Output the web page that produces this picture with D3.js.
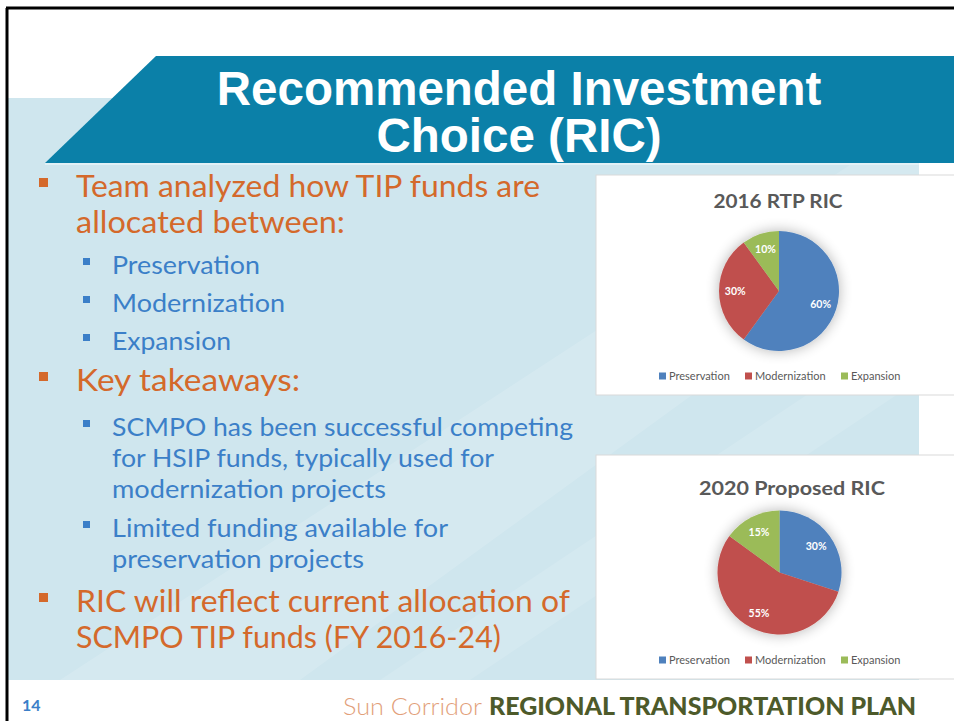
<!DOCTYPE html>
<html>
<head>
<meta charset="utf-8">
<script src="https://cdn.jsdelivr.net/npm/d3@7"></script>
<style>
  html, body { margin: 0; padding: 0; background: #fff; }
  svg { display: block; }
</style>
</head>
<body>
<div id="slide"></div>
<script>
// ---- data ----
var categories = ["Preservation", "Modernization", "Expansion"];
var ric2016 = [60, 30, 10];
var ric2020 = [30, 55, 15];
var chartTitles = ["2016 RTP RIC", "2020 Proposed RIC"];
var titleLines = ["Recommended Investment", "Choice (RIC)"];
var bulletText = [
  "Team analyzed how TIP funds are", "allocated between:",
  "Preservation", "Modernization", "Expansion",
  "Key takeaways:",
  "SCMPO has been successful competing", "for HSIP funds, typically used for", "modernization projects",
  "Limited funding available for", "preservation projects",
  "RIC will reflect current allocation of", "SCMPO TIP funds (FY 2016-24)"
];
var bulletLevel = [1, 1, 2, 2, 2, 1, 2, 2, 2, 2, 2, 1, 1];
var bulletStart = [true, false, true, true, true, true, true, false, false, true, false, true, false];

// ---- layout ----
var W = 954, H = 721;
var lineY = [197, 233, 274, 312, 350, 391, 436, 467, 498, 537, 568, 612, 648];
var lineW = [464, 269, 148, 173, 119, 224, 461, 382, 274, 336, 252, 494, 425];
var sliceColor = ["#4f81bd", "#c0504d", "#9bbb59"];

var svg = d3.select("#slide").append("svg")
    .attr("width", W).attr("height", H);

var defs = svg.append("defs");
var sh = defs.append("filter").attr("id", "pieShadow")
    .attr("x", "-40%").attr("y", "-40%").attr("width", "180%").attr("height", "180%");
sh.append("feGaussianBlur").attr("in", "SourceAlpha").attr("stdDeviation", 7).attr("result", "b");
sh.append("feComponentTransfer").append("feFuncA").attr("type", "linear").attr("slope", 0.3);
var mg = sh.append("feMerge");
mg.append("feMergeNode");
mg.append("feMergeNode").attr("in", "SourceGraphic");

// light blue body of slide
svg.append("rect").attr("x", 8).attr("y", 98).attr("width", 911).attr("height", 582)
    .attr("fill", "#cfe6ee");
// lighter diagonal streaks
svg.append("path").attr("d", "M 60 680 L 300 680 L 919 230 L 919 120 Z")
    .attr("fill", "#ffffff").attr("opacity", 0.14);
svg.append("path").attr("d", "M 380 680 L 470 680 L 919 380 L 919 320 Z")
    .attr("fill", "#ffffff").attr("opacity", 0.12);

// slide frame
svg.append("line").attr("x1", 7).attr("x2", 7).attr("y1", 8).attr("y2", H)
    .attr("stroke", "#000").attr("stroke-width", 3);
svg.append("line").attr("x1", 6).attr("x2", W).attr("y1", 8).attr("y2", 8)
    .attr("stroke", "#000").attr("stroke-width", 3);

// title banner
svg.append("path").attr("d", "M 156 56 L " + W + " 56 L " + W + " 163 L 45 163 Z")
    .attr("fill", "#0b80a8");
svg.append("rect").attr("x", 45).attr("y", 163).attr("width", 874).attr("height", 2)
    .attr("fill", "#e2f1f6");

svg.selectAll("text.title").data(titleLines).enter().append("text")
    .attr("class", "title")
    .attr("x", 519).attr("y", function(d, i) { return 105 + i * 47; })
    .attr("text-anchor", "middle")
    .attr("font-family", "Liberation Sans, Arial, sans-serif")
    .attr("font-weight", "bold").attr("font-size", 47.5)
    .attr("fill", "#fff")
    .text(function(d) { return d; });

// bullets
var bullets = svg.append("g");
bulletText.forEach(function(t, i) {
  var lvl = bulletLevel[i];
  var tx = lvl === 1 ? 76 : 112;
  var col = lvl === 1 ? "#d4692b" : "#3b7fc8";
  var fs = lvl === 1 ? 30.5 : 25.5;
  if (bulletStart[i]) {
    var s = lvl === 1 ? 9 : 7;
    bullets.append("rect")
        .attr("x", lvl === 1 ? 39 : 83)
        .attr("y", lineY[i] - (lvl === 1 ? 19 : 16))
        .attr("width", s).attr("height", s)
        .attr("fill", col);
  }
  bullets.append("text")
      .attr("x", tx).attr("y", lineY[i])
      .attr("font-family", "Lato, 'Open Sans', sans-serif")
      .attr("font-size", fs).attr("fill", col)
      .attr("textLength", lineW[i]).attr("lengthAdjust", "spacingAndGlyphs")
      .text(t);
});

// ---- pie charts ----
var pie = d3.pie().sort(null).value(function(d) { return d; });

function drawChart(values, opts) {
  var g = svg.append("g");
  g.append("rect")
      .attr("x", opts.box[0]).attr("y", opts.box[1])
      .attr("width", W - opts.box[0] + 2).attr("height", opts.box[2] - opts.box[1])
      .attr("fill", "#fff").attr("stroke", "#d9d9d9");

  g.append("text")
      .attr("x", opts.titleX).attr("y", opts.titleY)
      .attr("text-anchor", "middle")
      .attr("font-family", "Lato, 'Open Sans', sans-serif")
      .attr("font-weight", "bold").attr("font-size", 19.5)
      .attr("fill", "#595959")
      .attr("textLength", opts.titleW).attr("lengthAdjust", "spacingAndGlyphs")
      .text(opts.title);

  var arc = d3.arc().innerRadius(0).outerRadius(opts.r);
  var lab = d3.arc().innerRadius(opts.r * 0.73).outerRadius(opts.r * 0.73);
  var pg = g.append("g").attr("transform", "translate(" + opts.cx + "," + opts.cy + ")");
  var arcs = pie(values);
  pg.append("g").attr("filter", "url(#pieShadow)")
    .selectAll("path").data(arcs).enter().append("path")
      .attr("d", arc)
      .attr("fill", function(d, i) { return sliceColor[i]; });
  pg.selectAll("text").data(arcs).enter().append("text")
      .attr("transform", function(d) { return "translate(" + lab.centroid(d) + ")"; })
      .attr("text-anchor", "middle").attr("dy", "0.35em")
      .attr("font-family", "Lato, 'Open Sans', sans-serif")
      .attr("font-weight", "bold").attr("font-size", 10.5)
      .attr("fill", "#fff")
      .text(function(d) { return d.data + "%"; });

  var legX = [659, 745, 841];
  var leg = g.append("g");
  categories.forEach(function(c, i) {
    leg.append("rect").attr("x", legX[i]).attr("y", opts.legY - 7.5)
        .attr("width", 7).attr("height", 7).attr("fill", sliceColor[i]);
    leg.append("text").attr("x", legX[i] + 10).attr("y", opts.legY)
        .attr("font-family", "Lato, 'Open Sans', sans-serif")
        .attr("font-size", 11).attr("fill", "#595959")
        .text(c);
  });
}

drawChart(ric2016, {
  box: [596, 175, 395], title: chartTitles[0], titleX: 778, titleY: 208, titleW: 129,
  cx: 779, cy: 291, r: 60, legY: 380
});
drawChart(ric2020, {
  box: [596, 455, 679], title: chartTitles[1], titleX: 792, titleY: 495, titleW: 186,
  cx: 779.5, cy: 572.5, r: 62, legY: 664
});

// footer
svg.append("text").attr("x", 22).attr("y", 711)
    .attr("font-family", "Lato, sans-serif").attr("font-weight", "bold")
    .attr("font-size", 16).attr("fill", "#3b7fc8").text("14");
svg.append("text").attr("x", 343).attr("y", 715)
    .attr("font-family", "Lato, sans-serif").attr("font-weight", 300)
    .attr("font-size", 24).attr("fill", "#e2a07a")
    .attr("textLength", 139).attr("lengthAdjust", "spacingAndGlyphs")
    .text("Sun Corridor");
svg.append("text").attr("x", 489).attr("y", 715)
    .attr("font-family", "Lato, sans-serif").attr("font-weight", 900)
    .attr("font-size", 24).attr("fill", "#4d5a2a")
    .attr("textLength", 427).attr("lengthAdjust", "spacingAndGlyphs")
    .text("REGIONAL TRANSPORTATION PLAN");
</script>
</body>
</html>
